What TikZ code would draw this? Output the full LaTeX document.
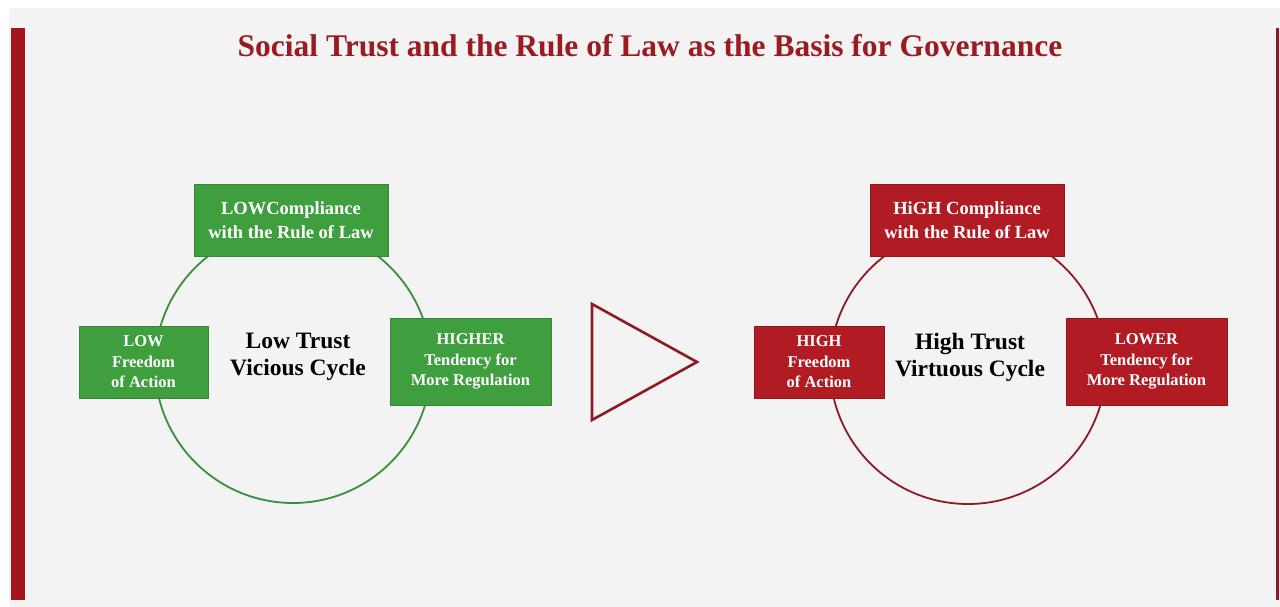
\documentclass[tikz,border=0pt]{standalone}
\usepackage{fontspec}
\setmainfont{Liberation Serif}
\definecolor{bg}{HTML}{F3F3F3}
\definecolor{darkred}{HTML}{A3161E}
\definecolor{titlered}{HTML}{9B1B22}
\definecolor{boxgreen}{HTML}{3F9F3F}
\definecolor{linegreen}{HTML}{3A8F3A}
\definecolor{boxred}{HTML}{B11C24}
\definecolor{lineRed}{HTML}{8E1A22}
\begin{document}
\begin{tikzpicture}[x=1pt,y=-1pt,
  boxbase/.style={line width=0.6pt,text=white,align=center,inner sep=0pt},
  bigtext/.style={font=\bfseries\fontsize{18.5}{24}\selectfont},
  smalltext/.style={font=\bfseries\fontsize{16.5}{20.5}\selectfont},
  gbox/.style={boxbase,fill=boxgreen,draw=boxgreen!85!black},
  rbox/.style={boxbase,fill=boxred,draw=boxred!80!black},
  center label/.style={font=\bfseries\fontsize{23.5}{27}\selectfont,align=center,text=black}]
\useasboundingbox (0,0) rectangle (1280,607);
\fill[white] (0,0) rectangle (1280,607);
\fill[bg] (9,8) rectangle (1280,607);
% side bars
\fill[darkred] (11,28) rectangle (25,600);
\fill[lineRed] (1276,28) rectangle (1279,600);
% title
\node[font=\bfseries\fontsize{31.5}{36}\selectfont,text=titlered] (title) at (650,46) {Social Trust and the Rule of Law as the Basis for Governance};
% left cycle
\node[circle,draw=linegreen,line width=1.8pt,minimum size=276pt,inner sep=0pt] (lc) at (293,365) {};
\node[center label] (lt) at (298,357) {Low Trust\\Vicious Cycle};
\node[gbox,bigtext,minimum width=194pt,minimum height=72pt] (ltop) at (291,220) {LOWCompliance\\with the Rule of Law};
\node[gbox,smalltext,minimum width=129pt,minimum height=72pt] (lleft) at (143.5,362) {LOW\\Freedom\\of Action};
\node[gbox,smalltext,minimum width=161pt,minimum height=87pt] (lright) at (470.5,361.5) {HIGHER\\Tendency for\\More Regulation};
% triangle
\coordinate (ta) at (592,304);
\coordinate (tb) at (592,420);
\coordinate (tc) at (697,362);
\draw[lineRed,line width=2.6pt,line join=miter] (ta) -- (tb) -- (tc) -- cycle;
% right cycle
\node[circle,draw=lineRed,line width=1.8pt,minimum size=276pt,inner sep=0pt] (rc) at (968,366) {};
\node[center label] (rt) at (970,357) {High Trust\\Virtuous Cycle};
\node[rbox,bigtext,minimum width=194pt,minimum height=72pt] (rtop) at (967,220) {HiGH Compliance\\with the Rule of Law};
\node[rbox,smalltext,minimum width=130pt,minimum height=72pt] (rleft) at (819,362) {HIGH\\Freedom\\of Action};
\node[rbox,smalltext,minimum width=161pt,minimum height=87pt] (rright) at (1146.5,361.5) {LOWER\\Tendency for\\More Regulation};
\end{tikzpicture}
\end{document}
